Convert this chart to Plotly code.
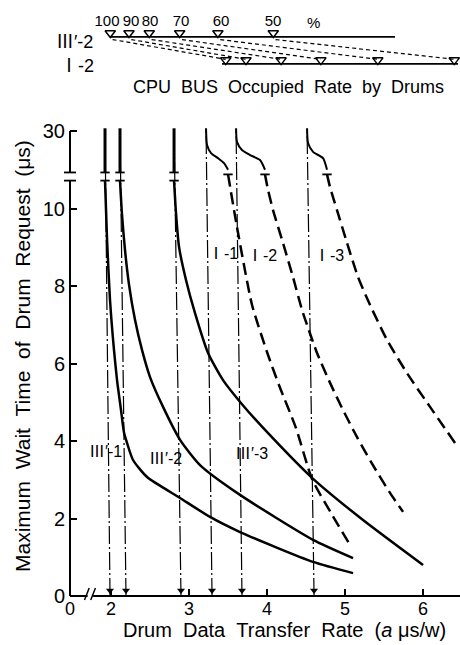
import plotly.graph_objects as go

# ---------------- axis scaffolding values ----------------
X0 = 1.474                      # data position of the "0" origin (broken x-axis)
X_END = X0 + 390 / 78
Y_TOP = 596 / 38.75
BREAK_LO, BREAK_HI = 10.72, 10.93   # y-axis break between 10 and 30
Y30 = 12.0                           # position where "30" is printed

x_tickvals = [X0, 2, 3, 4, 5, 6]
x_ticktext = ["0", "2", "3", "4", "5", "6"]
y_tickvals = [0, 2, 4, 6, 8, 10, Y30]
y_ticktext = ["0", "2", "4", "6", "8", "10", "30"]

# ---------------- curves III' (solid) ----------------
iii1_up_x = [1.923, 1.923]
iii1_up_y = [12.07, 10.93]
iii1_x = [1.923, 1.949, 1.987, 2.038, 2.077, 2.128, 2.167, 2.205, 2.282, 2.462, 2.885, 3.269, 3.654, 4.590, 5.103]
iii1_y = [10.72, 9.19, 7.64, 6.35, 5.57, 4.80, 4.21, 3.95, 3.51, 3.07, 2.53, 2.04, 1.65, 0.88, 0.59]

iii2_up_x = [2.115, 2.115]
iii2_up_y = [12.07, 10.93]
iii2_x = [2.115, 2.141, 2.179, 2.231, 2.308, 2.397, 2.500, 2.667, 2.885, 3.141, 3.654, 4.590, 5.103]
iii2_y = [10.72, 9.83, 8.93, 8.03, 7.12, 6.35, 5.65, 4.88, 4.03, 3.38, 2.61, 1.45, 0.98]

iii3_up_x = [2.808, 2.808]
iii3_up_y = [12.07, 10.93]
iii3_x = [2.808, 2.833, 2.872, 2.962, 3.077, 3.244, 3.436, 3.679, 4.038, 4.577, 5.231, 6.000]
iii3_y = [10.72, 9.88, 9.01, 8.15, 7.30, 6.27, 5.57, 4.95, 4.15, 3.05, 1.96, 0.80]

# ---------------- curves I (dashed) ----------------
i1_up_x = [3.218, 3.231, 3.282, 3.372, 3.449, 3.500]
i1_up_y = [12.07, 11.64, 11.43, 11.30, 11.17, 11.00]
i1_x = [3.500, 3.615, 3.808, 4.013, 4.154, 4.372, 4.577, 4.821, 5.064]
i1_y = [10.88, 9.52, 7.51, 6.22, 5.44, 4.33, 3.02, 2.14, 1.32]

i2_up_x = [3.603, 3.615, 3.679, 3.782, 3.910, 3.974]
i2_up_y = [12.07, 11.72, 11.51, 11.38, 11.25, 11.00]
i2_x = [3.974, 4.013, 4.077, 4.205, 4.333, 4.449, 4.526, 4.641, 4.808, 4.974, 5.154, 5.333, 5.577, 5.744]
i2_y = [10.88, 10.48, 9.96, 9.11, 8.23, 7.38, 6.92, 6.27, 5.50, 4.80, 4.10, 3.46, 2.66, 2.17]

i3_up_x = [4.513, 4.526, 4.590, 4.718, 4.769]
i3_up_y = [12.07, 11.69, 11.46, 11.30, 11.00]
i3_x = [4.769, 4.808, 4.897, 5.026, 5.167, 5.321, 5.538, 5.795, 6.090, 6.410]
i3_y = [10.88, 10.55, 9.96, 9.11, 8.23, 7.51, 6.61, 5.75, 4.88, 3.95]

# ---------------- dash-dot asymptote markers ----------------
vline_x_bottom = [1.987, 2.192, 2.897, 3.295, 3.679, 4.603]
vline_x_top = [1.923, 2.115, 2.808, 3.218, 3.603, 4.513]

# ---------------- nomogram: CPU BUS occupied rate ----------------
bus_pct = [100, 90, 80, 70, 60, 50]
bus_label_x = [1.949, 2.256, 2.500, 2.897, 3.410, 4.077]
bus_upper_x = [1.99, 2.23, 2.49, 2.88, 3.37, 4.08]   # III'-2 scale
bus_lower_x = [3.47, 3.73, 4.18, 4.69, 5.42, 6.40]   # I-2 scale
bus_upper_line = [1.987, 5.64]
bus_lower_line = [3.423, 6.449]
Y_UP_LINE, Y_LO_LINE = 14.43, 13.73

FONT = "Liberation Sans, Arial, Noto Sans CJK JP, sans-serif"
BLK = "black"

fig = go.Figure()

def add_line(x, y, width=2.5, dash="solid", shape="spline"):
    fig.add_trace(go.Scatter(x=x, y=y, mode="lines",
                             line=dict(color=BLK, width=width, dash=dash, shape=shape, smoothing=0.6),
                             hoverinfo="skip", showlegend=False))

# dash-dot verticals
for xb, xt in zip(vline_x_bottom, vline_x_top):
    add_line([xb, xt], [0, 12.07], width=1.2, dash="18px,3px,2px,3px", shape="linear")
fig.add_trace(go.Scatter(x=vline_x_bottom, y=[0.14] * len(vline_x_bottom), mode="markers",
                         marker=dict(symbol="triangle-down", size=7, color=BLK),
                         cliponaxis=False, hoverinfo="skip", showlegend=False))

# solid curves
for ux, uy, lx, ly in [(iii1_up_x, iii1_up_y, iii1_x, iii1_y),
                       (iii2_up_x, iii2_up_y, iii2_x, iii2_y),
                       (iii3_up_x, iii3_up_y, iii3_x, iii3_y)]:
    add_line(ux, uy, width=3, shape="linear")
    add_line(lx, ly, width=2.5)

# dashed curves
for ux, uy, lx, ly in [(i1_up_x, i1_up_y, i1_x, i1_y),
                       (i2_up_x, i2_up_y, i2_x, i2_y),
                       (i3_up_x, i3_up_y, i3_x, i3_y)]:
    add_line(ux, uy, width=2)
    add_line(lx, ly, width=2.5, dash="12px,6px")

# break bars on curves
bw = 0.06
for cx_up, cx_lo in [(iii1_up_x[-1], iii1_x[0]), (iii2_up_x[-1], iii2_x[0]), (iii3_up_x[-1], iii3_x[0])]:
    add_line([cx_up - bw, cx_up + bw], [BREAK_HI, BREAK_HI], width=1.8, shape="linear")
    add_line([cx_lo - bw, cx_lo + bw], [BREAK_LO, BREAK_LO], width=1.8, shape="linear")
for cx in [i1_x[0], i2_x[0], i3_x[0]]:
    add_line([cx - bw, cx + bw], [10.88, 10.88], width=1.8, shape="linear")

# nomogram
add_line(bus_upper_line, [Y_UP_LINE, Y_UP_LINE], width=1.8, shape="linear")
add_line(bus_lower_line, [Y_LO_LINE, Y_LO_LINE], width=1.8, shape="linear")
for xu, xl in zip(bus_upper_x, bus_lower_x):
    add_line([xu + 0.03, xl], [Y_UP_LINE - 0.07, Y_LO_LINE + 0.12], width=1.2, dash="4px,3px", shape="linear")
fig.add_trace(go.Scatter(x=bus_upper_x, y=[Y_UP_LINE + 0.1] * 6, mode="markers",
                         marker=dict(symbol="triangle-down-open", size=9, color=BLK, line=dict(width=1.5)),
                         hoverinfo="skip", showlegend=False))
fig.add_trace(go.Scatter(x=bus_lower_x, y=[Y_LO_LINE + 0.1] * 6, mode="markers",
                         marker=dict(symbol="triangle-down-open", size=9, color=BLK, line=dict(width=1.5)),
                         hoverinfo="skip", showlegend=False))
fig.add_trace(go.Scatter(x=bus_label_x, y=[14.81] * 6, mode="text",
                         text=[str(p) for p in bus_pct], textfont=dict(family=FONT, size=15, color=BLK),
                         hoverinfo="skip", showlegend=False))

annos = []
def txt(x, y, s, size=18, xref="x", yref="y", angle=0):
    annos.append(dict(x=x, y=y, xref=xref, yref=yref, text=s, showarrow=False, textangle=angle,
                      font=dict(family=FONT, size=size, color=BLK), xanchor="center", yanchor="middle"))

NB2 = "\u00a0\u00a0"
txt(4.60, 14.81, "%", 15)
txt(1.538, 14.30, "Ⅲ′-2", 18)
txt(1.564, 13.68, "Ⅰ-2", 18)
txt(4.269, 13.14, NB2.join(["CPU", "BUS", "Occupied", "Rate", "by", "Drums"]), 18)

# curve labels
txt(1.923, 3.72, "Ⅲ′-1", 16)
txt(2.692, 3.54, "Ⅲ′-2", 16)
txt(3.795, 3.69, "Ⅲ′-3", 16)
txt(3.436, 8.83, "Ⅰ-1", 16)
txt(3.936, 8.80, "Ⅰ-2", 16)
txt(4.795, 8.80, "Ⅰ-3", 16)

# axis titles
txt((284 - 70) / 390, (596 - 630) / 596,
    NB2.join(["Drum", "Data", "Transfer", "Rate", "(<i>a</i>\u00a0μs/w)"]), 20, "paper", "paper")
txt((22 - 70) / 390, (596 - 356) / 596,
    NB2.join(["Maximum", "Wait", "Time", "of", "Drum", "Request", "(μs)"]), 21, "paper", "paper", -90)

# axis lines with breaks (shapes)
shapes = []
def seg(x0, y0, x1, y1, xref, yref, w=2):
    shapes.append(dict(type="line", x0=x0, y0=y0, x1=x1, y1=y1, xref=xref, yref=yref,
                       line=dict(color=BLK, width=w), layer="above"))
seg(0, 0, 0, BREAK_LO, "paper", "y")
seg(0, BREAK_HI, 0, Y30, "paper", "y")
seg(-6 / 390, BREAK_LO, 6 / 390, BREAK_LO, "paper", "y", 1.8)
seg(-6 / 390, BREAK_HI, 6 / 390, BREAK_HI, "paper", "y", 1.8)
seg(X0, 0, 1.70, 0, "x", "paper")
seg(1.77, 0, X_END, 0, "x", "paper")
seg(1.66, -4 / 596, 1.72, 8 / 596, "x", "paper", 1.5)
seg(1.74, -4 / 596, 1.80, 8 / 596, "x", "paper", 1.5)

fig.update_layout(
    width=460, height=645,
    margin=dict(l=70, r=0, t=0, b=49),
    paper_bgcolor="white", plot_bgcolor="white",
    showlegend=False,
    annotations=annos, shapes=shapes,
    xaxis=dict(range=[X0, X_END], showgrid=False, zeroline=False, showline=False,
               tickvals=x_tickvals, ticktext=x_ticktext, ticks="inside", ticklen=7,
               tickwidth=1.5, tickcolor=BLK, tickfont=dict(family=FONT, size=18, color=BLK)),
    yaxis=dict(range=[0, Y_TOP], showgrid=False, zeroline=False, showline=False,
               tickvals=y_tickvals, ticktext=y_ticktext, ticks="inside", ticklen=7,
               ticklabelstandoff=4,
               tickwidth=1.5, tickcolor=BLK, tickfont=dict(family=FONT, size=20, color=BLK)),
)

fig.write_html("out.html", config={"displayModeBar": False},
               post_script="document.body.style.margin='0px';")
